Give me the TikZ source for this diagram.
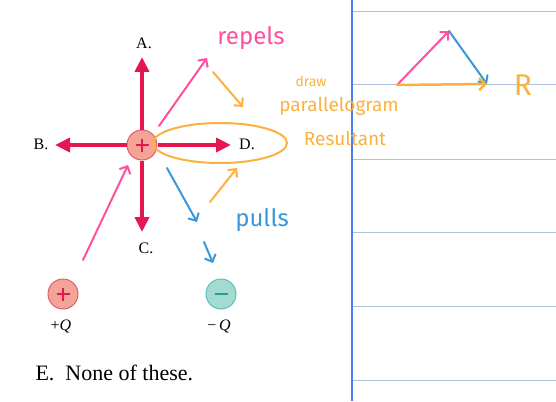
\documentclass[tikz,border=0pt]{standalone}
\usepackage{fontspec}
\setmainfont{Liberation Serif}
\setsansfont{Fira Sans}
\usetikzlibrary{arrows.meta,shapes.geometric}

\definecolor{forcered}{HTML}{E5174F}
\definecolor{posfill}{HTML}{F4A497}
\definecolor{posline}{HTML}{DF5F68}
\definecolor{negfill}{HTML}{A3DAD2}
\definecolor{negline}{HTML}{55C2B8}
\definecolor{negsign}{HTML}{17A398}
\definecolor{inkpink}{HTML}{FF4F9E}
\definecolor{inkorange}{HTML}{FBB23C}
\definecolor{inkblue}{HTML}{3A97DA}
\definecolor{ruleline}{HTML}{B2C1DB}
\definecolor{marginline}{HTML}{4A7DF2}

\begin{document}
\begin{tikzpicture}[x=1pt,y=-1pt,
  force/.style={forcered, line width=3.8pt, -{Triangle[length=15pt,width=14pt]}},
  charge/.style={circle, minimum size=30pt, inner sep=0pt, line width=1pt},
  poscharge/.style={charge, draw=posline, fill=posfill,
    path picture={\draw[forcered, line width=1.6pt]
      (path picture bounding box.center) +(-6.5pt,0) -- +(6.5pt,0)
      +(0,-6.5pt) -- +(0,6.5pt);}},
  negcharge/.style={charge, draw=negline, fill=negfill,
    path picture={\draw[negsign, line width=1.8pt]
      (path picture bounding box.center) +(-6.5pt,0) -- +(6.5pt,0);}},
  letter/.style={font=\fontsize{16}{16}\selectfont},
  ink/.style={line width=2pt, line cap=round, -{Straight Barb[length=6pt,width=12pt]}},
  hand/.style={font=\sffamily\fontsize{#1}{#1}\selectfont},
  hand/.default=20]
\useasboundingbox (0,0) rectangle (556,401);

% notebook page
\foreach \y in {12,85,159,232,306,380}
  \draw[ruleline, line width=1pt] (352,\y) -- (556,\y);
\draw[marginline, line width=1.2pt] (352,0) -- (352,401);

% charges
\node[poscharge] (q) at (142,145) {};
\node[poscharge] (qpos) at (63,294) {};
\node[negcharge] (qneg) at (221,294) {};
\node[letter] (lpos) at (61,326) {+\textit{Q}};
\node[letter] (lneg) at (219,326) {−\,\textit{Q}};

% answer choices
\coordinate (tipA) at (142,57);
\coordinate (tipB) at (55,145);
\coordinate (tipC) at (142,232);
\coordinate (tipD) at (231,145);
\draw[force] (q.north) -- (tipA);
\draw[force] (q.west) -- (tipB);
\draw[force] (q.south) -- (tipC);
\draw[force] (q.east) -- (tipD);
\node[letter] (optA) at (144,43) {A.};
\node[letter] (optB) at (41,144) {B.};
\node[letter] (optC) at (146,248) {C.};
\node[letter] (optD) at (247,144) {D.};
\node[anchor=base west, font=\fontsize{22}{22}\selectfont] (optE) at (32,380) {E.\ \ None of these.};

% handwritten notes
\coordinate (p1s) at (83,260);  \coordinate (p1e) at (128,165);
\coordinate (p2s) at (159,126); \coordinate (p2e) at (207,58);
\coordinate (o1s) at (213,72);  \coordinate (o1e) at (243,107);
\coordinate (o2s) at (210,202); \coordinate (o2e) at (237,168);
\coordinate (b1s) at (167,168); \coordinate (b1e) at (197,222);
\coordinate (b2s) at (204,242); \coordinate (b2e) at (213,263);
\draw[ink, inkpink] (p1s) -- (p1e);
\draw[ink, inkpink] (p2s) -- (p2e);
\draw[ink, inkorange] (o1s) -- (o1e);
\draw[ink, inkorange] (o2s) -- (o2e);
\draw[ink, inkblue] (b1s) -- (b1e);
\draw[ink, inkblue] (b2s) -- (b2e);
\node[ellipse, draw=inkorange, line width=2pt, minimum width=134pt, minimum height=40pt] (loop) at (220,143) {};

\node[hand=24, text=inkpink] (repels) at (251,38) {repels};
\node[hand=24, text=inkblue] (pulls) at (262,220) {pulls};
\node[hand=14, text=inkorange] (draw) at (311,81) {draw};
\node[hand=19, text=inkorange] (para) at (339,106) {parallelogram};
\node[hand=19, text=inkorange] (result) at (345,138) {Resultant};

% resultant sketch
\coordinate (r0) at (397,85);
\coordinate (r1) at (449,31);
\coordinate (r2) at (487,84);
\draw[ink, inkpink] (r0) -- (r1);
\draw[ink, inkblue] (r1) -- (r2);
\draw[ink, inkorange, line width=2.5pt] (r0) -- (r2);
\node[hand=30, text=inkorange] (rlabel) at (523,85) {R};
\end{tikzpicture}
\end{document}
